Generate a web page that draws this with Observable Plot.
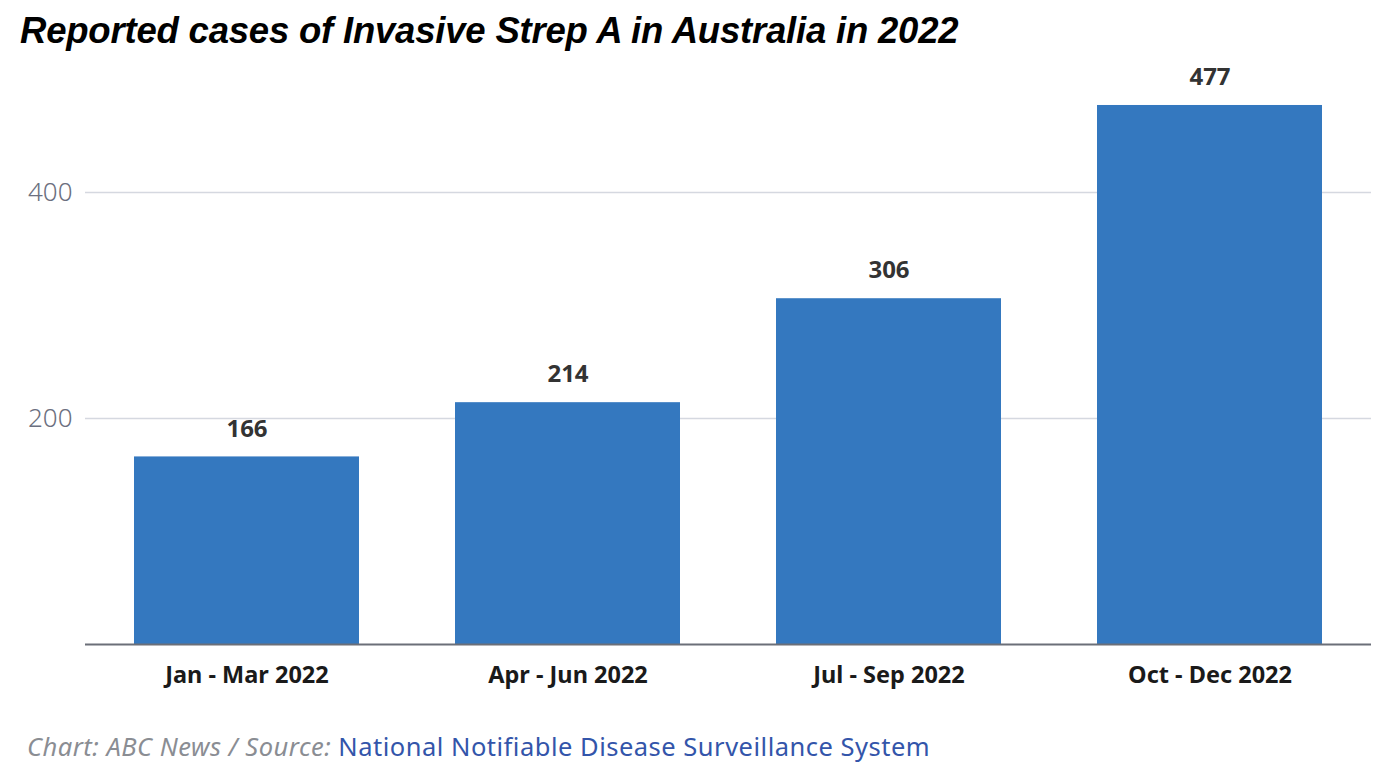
<!DOCTYPE html>
<html>
<head>
<meta charset="utf-8">
<script src="https://cdn.jsdelivr.net/npm/d3@7"></script>
<script src="https://cdn.jsdelivr.net/npm/@observablehq/plot@0.6"></script>
<style>
  html, body { margin: 0; padding: 0; background: #fff; width: 1386px; height: 774px; overflow: hidden; }
  #title { position: absolute; left: 20px; top: 10px; font-family: "Liberation Sans", Arial, sans-serif; font-weight: bold; font-style: italic; font-size: 36.5px; color: #000; letter-spacing: -0.2px; white-space: nowrap; }
  #chart { position: absolute; left: 0; top: 60px; }
  #footer { position: absolute; left: 27px; top: 729px; font-family: "Noto Sans", sans-serif; font-size: 25.5px; letter-spacing: 0.5px; white-space: nowrap; }
  #footer .a { color: #8a8d93; font-style: italic; }
  #footer .b { color: #3355aa; }
</style>
</head>
<body>
<div id="title">Reported cases of Invasive Strep A in Australia in 2022</div>
<div id="chart"></div>
<div id="footer"><span class="a">Chart: ABC News / Source: </span><span class="b">National Notifiable Disease Surveillance System</span></div>
<script>
const quarters = ["Jan - Mar 2022", "Apr - Jun 2022", "Jul - Sep 2022", "Oct - Dec 2022"];
const cases = [166, 214, 306, 477];
const yTicks = [200, 400];

const data = quarters.map((q, i) => ({quarter: q, cases: cases[i]}));

const chart = Plot.plot({
  width: 1386,
  height: 640,
  marginTop: 19,
  marginBottom: 56,
  marginLeft: 85,
  marginRight: 15,
  style: {fontFamily: "Noto Sans, sans-serif", background: "#fff"},
  x: {domain: quarters, paddingInner: 0.3, paddingOuter: 0.15, label: null},
  y: {domain: [0, 500], label: null},
  marks: [
    Plot.gridY(yTicks, {stroke: "#d5d8e0", strokeOpacity: 1, strokeWidth: 1.5}),
    Plot.barY(data, {x: "quarter", y: "cases", fill: "#3478bf"}),
    Plot.ruleY([0], {stroke: "#6b6f78", strokeWidth: 2}),
    Plot.text(data, {x: "quarter", y: "cases", text: d => String(d.cases), dy: -28, fontSize: 24, fontWeight: "bold", fill: "#333"}),
    Plot.axisX({tickSize: 0, tickPadding: 22, fontSize: 23.5, fontWeight: "bold", fill: "#1a1a1a"}),
    Plot.axisY(yTicks, {tickSize: 0, tickPadding: 13, fontSize: 26, fill: "#6b7080", fontWeight: 300})
  ]
});
document.getElementById("chart").appendChild(chart);
</script>
</body>
</html>
